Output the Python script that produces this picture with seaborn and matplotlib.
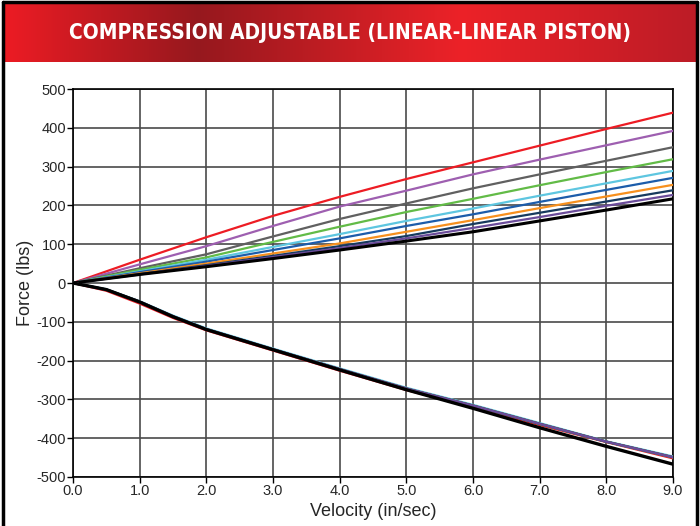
import numpy as np
import matplotlib
import matplotlib.pyplot as plt
import seaborn as sns
from matplotlib.lines import Line2D

matplotlib.use('Agg')

# compression side (velocity in in/sec, force in lbs)
comp_vel = [0, 1, 2, 3, 4, 5, 6, 7, 8, 9]
comp_red = [0, 60, 118, 173, 222, 268, 311, 354, 397, 439]
comp_purple = [0, 48, 95, 147, 197, 238, 280, 318, 355, 392]
comp_gray = [0, 38, 74, 120, 165, 205, 244, 280, 315, 350]
comp_green = [0, 34, 66, 106, 145, 183, 217, 252, 286, 319]
comp_cyan = [0, 30, 60, 93, 126, 160, 192, 225, 257, 289]
comp_blue = [0, 28, 55, 85, 115, 147, 177, 209, 240, 271]
comp_orange = [0, 25, 50, 76, 102, 132, 162, 193, 223, 253]
comp_navy = [0, 23, 46, 70, 95, 121, 152, 181, 210, 239]
comp_indigo = [0, 22, 44, 67, 90, 115, 142, 170, 199, 227]
comp_black = [0, 22, 42, 63, 85, 108, 132, 160, 188, 217]

# rebound side
reb_vel = [0, 0.5, 1, 1.5, 2, 3, 4, 5, 6, 7, 8, 9]
reb_red = [0, -20, -53, -90, -122, -174, -226, -276, -320, -366, -410, -452]
reb_cyan = [0, -16, -47, -84, -117, -169, -220, -270, -314, -361, -408, -447]
reb_other = [0, -17, -48, -86, -119, -171, -222, -272, -316, -363, -409, -449]
reb_black = [0, -17, -49, -87, -120, -172, -224, -275, -323, -373, -421, -467]

series_colors = ['#ed1c24', '#9e5fb0', '#606060', '#62bb47', '#5ec6e0',
                 '#1c5caa', '#f7901e', '#173a5e', '#6b4c9a', '#000000']
comp_series = [comp_red, comp_purple, comp_gray, comp_green, comp_cyan,
               comp_blue, comp_orange, comp_navy, comp_indigo, comp_black]
reb_series = [reb_red, reb_other, reb_other, reb_other, reb_cyan,
              reb_other, reb_other, reb_other, reb_other, reb_black]

x_ticks = [0, 1, 2, 3, 4, 5, 6, 7, 8, 9]
y_ticks = [-500, -400, -300, -200, -100, 0, 100, 200, 300, 400, 500]

sns.set_style('white')
plt.rcParams['font.family'] = ['Liberation Sans', 'DejaVu Sans']

fig = plt.figure(figsize=(7, 5.26), dpi=100)

# header banner with red gradient
banner = fig.add_axes([0.004, 1 - 62 / 526, 0.992, (62 - 4) / 526])
stops_x = [0.0, 0.28, 0.66, 1.0]
stops_c = np.array([[237, 28, 36], [150, 24, 30], [236, 34, 40], [188, 28, 38]]) / 255
xs = np.linspace(0, 1, 400)
grad = np.stack([np.interp(xs, stops_x, stops_c[:, i]) for i in range(3)], axis=-1)
banner.imshow(grad[np.newaxis, :, :], aspect='auto', extent=[0, 1, 0, 1])
banner.set_axis_off()
banner.text(0.5, 0.5, 'COMPRESSION ADJUSTABLE (LINEAR-LINEAR PISTON)', color='white',
            fontsize=15, fontweight='bold', ha='center', va='center',
            family=['DejaVu Sans'], fontstretch='condensed',
            transform=banner.transAxes)

# outer frame
fig.add_artist(Line2D([0.004, 0.004], [0, 0.996], color='black', lw=2.5, transform=fig.transFigure))
fig.add_artist(Line2D([0.995, 0.995], [0, 0.996], color='black', lw=2.5, transform=fig.transFigure))
fig.add_artist(Line2D([0.004, 0.995], [0.996, 0.996], color='black', lw=2.5, transform=fig.transFigure))

ax = fig.add_axes([73 / 700, 1 - 477 / 526, 600 / 700, (477 - 89) / 526])
for ys, col in zip(comp_series, series_colors):
    lw = 2.2 if col == '#000000' else 1.6
    sns.lineplot(x=comp_vel, y=ys, color=col, lw=lw, ax=ax, zorder=3)
for ys, col in zip(reb_series, series_colors):
    lw = 2.4 if col == '#000000' else 1.6
    sns.lineplot(x=reb_vel, y=ys, color=col, lw=lw, ax=ax, zorder=3)

ax.set_xlim(0, 9)
ax.set_ylim(-500, 500)
ax.set_xticks(x_ticks)
ax.set_xticklabels([f'{v:.1f}' for v in x_ticks])
ax.set_yticks(y_ticks)
ax.set_yticklabels([str(v) for v in y_ticks])
ax.grid(True, color='#4a4a4a', lw=1.2)
ax.tick_params(axis='both', direction='out', length=4, width=1, color='black',
               labelsize=10.5, pad=1, bottom=True, left=True)
for sp in ax.spines.values():
    sp.set_color('black')
    sp.set_linewidth(1.2)
ax.set_xlabel('Velocity (in/sec)', fontsize=13, labelpad=4)
ax.set_ylabel('Force (lbs)', fontsize=13, labelpad=2)

plt.savefig('out.png', dpi=100)
plt.close()
